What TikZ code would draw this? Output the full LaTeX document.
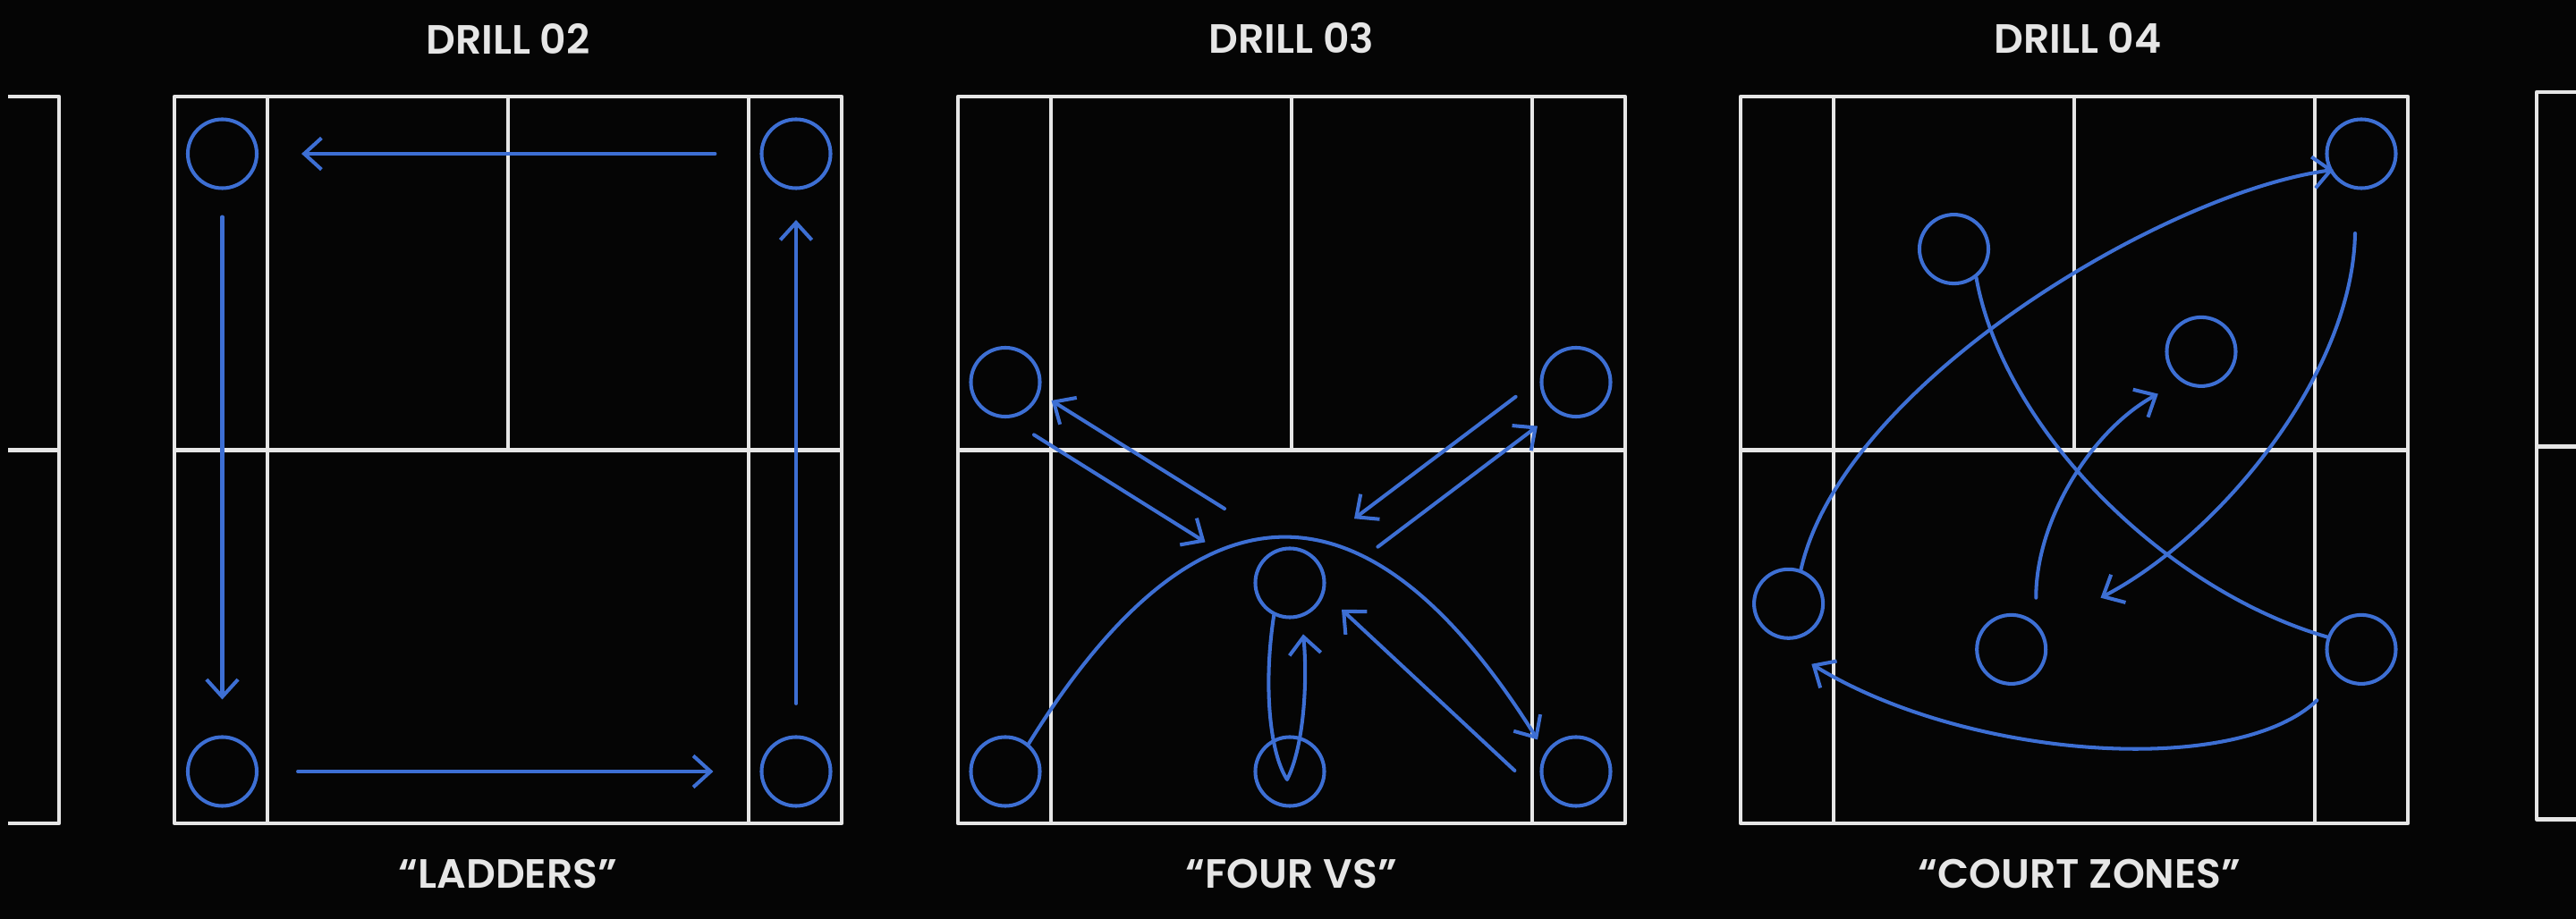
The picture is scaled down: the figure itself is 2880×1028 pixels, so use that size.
\documentclass[tikz,border=0pt]{standalone}
\usepackage{fontspec}
\setmainfont{Poppins}[BoldFont={Poppins SemiBold}]
\usetikzlibrary{arrows.meta}
\definecolor{courtwhite}{HTML}{E6E6E6}
\definecolor{drillblue}{HTML}{3D6FD4}
\definecolor{bgblack}{HTML}{050505}
\tikzset{
  court/.style={draw=courtwhite, line width=1.3pt},
  player/.style={circle, draw=drillblue, line width=1.15pt, minimum size=0.77cm, inner sep=0pt},
  run/.style={draw=drillblue, line width=1.15pt, line cap=round},
  move/.style={run, -{Straight Barb[length=5.5pt, width=10pt]}},
  title/.style={text=courtwhite, font=\bfseries\fontsize{13}{15}\selectfont},
}
\begin{document}
\begin{tikzpicture}[x=0.01cm, y=-0.01cm, line join=round]
  \fill[bgblack] (0,0) rectangle (2880,1028);
  \useasboundingbox (0,0) rectangle (2880,1028);
  % courts
  \foreach \x in {195,1071,1946}{
    \draw[court] (\x,108) rectangle ++(746,813);
    \draw[court] (\x,503.5) -- ++(746,0);
    \draw[court] (\x+104,108) -- (\x+104,921) (\x+642,108) -- (\x+642,921);
    \draw[court] (\x+373,108) -- (\x+373,503.5);
  }
  % cut courts at the edges
  \draw[court] (9,108) -- (66,108) -- (66,921) -- (9,921) (9,503.5) -- (66,503.5);
  \draw[court] (2880,103) -- (2836,103) -- (2836,916.5) -- (2880,916.5) (2836,499.6) -- (2880,499.6);
  % titles
  \node[title] (t2) at (568,43) {DRILL 02};
  \node[title] (t3) at (1444,43) {DRILL 03};
  \node[title] (t4) at (2323,43) {DRILL 04};
  \node[title] (n2) at (568,977) {“LADDERS”};
  \node[title] (n3) at (1444,977) {“FOUR VS”};
  \node[title] (n4) at (2325,977) {“COURT ZONES”};
  % drill 02
  \node[player] (a1) at (248.5,172) {};
  \node[player] (a2) at (890,172) {};
  \node[player] (a3) at (248.5,863) {};
  \node[player] (a4) at (890,863) {};
  \draw[move, shorten <=0.5cm, shorten >=0.48cm] (a2) -- (a1);
  \draw[move, shorten <=0.3cm, shorten >=0.4cm] (a1) -- (a3);
  \draw[move, shorten <=0.44cm, shorten >=0.52cm] (a3) -- (a4);
  \draw[move, shorten <=0.355cm, shorten >=0.335cm] (a4) -- (a2);
  % drill 03
  \node[player] (b1) at (1124,427.5) {};
  \node[player] (b2) at (1762,427.5) {};
  \node[player] (b3) at (1442,652) {};
  \node[player] (b4) at (1124,863) {};
  \node[player] (b5) at (1442,863) {};
  \node[player] (b6) at (1762,863) {};
  \coordinate (ba1) at (1369,569);   \coordinate (ba2) at (1175.5,448);
  \coordinate (bb1) at (1156,486.4); \coordinate (bb2) at (1347.5,606.4);
  \coordinate (bc1) at (1694.6,443.8); \coordinate (bc2) at (1514,580.2);
  \coordinate (bd1) at (1540.4,611.7); \coordinate (bd2) at (1719,476.6);
  \coordinate (be2) at (1719,827.4);
  \coordinate (bf1) at (1693.4,862); \coordinate (bf2) at (1500,681.8);
  \coordinate (bg1) at (1439,872);   \coordinate (bg2) at (1457,709.4);
  \draw[move] (ba1) -- (ba2);
  \draw[move] (bb1) -- (bb2);
  \draw[move] (bc1) -- (bc2);
  \draw[move] (bd1) -- (bd2);
  \draw[move] (b4.50) .. controls (1340,525) and (1530,525) .. (be2);
  \draw[move] (bf1) -- (bf2);
  \draw[move] (b3.244) .. controls (1413,760) and (1418,840) .. (bg1)
    .. controls (1458,835) and (1462,760) .. (bg2);
  % drill 04
  \node[player] (c1) at (2640,172) {};
  \node[player] (c2) at (2184.5,278.6) {};
  \node[player] (c3) at (2461,393.4) {};
  \node[player] (c4) at (1999.6,675.3) {};
  \node[player] (c5) at (2248.7,726.4) {};
  \node[player] (c6) at (2640,726.4) {};
  \coordinate (ch2) at (2608.7,190);
  \coordinate (cj1) at (2633,261);   \coordinate (cj2) at (2348.5,668.7);
  \coordinate (ck1) at (2276.3,668.7); \coordinate (ck2) at (2412.8,440.6);
  \coordinate (cl1) at (2590.4,783.4); \coordinate (cl2) at (2025.3,742.8);
  \draw[move] (c4.70) .. controls (2060,430) and (2420,215) .. (ch2);
  \draw[run] (c2.-52) .. controls (2240,480) and (2420,660) .. (c6.160);
  \draw[move] (cj1) .. controls (2630,420) and (2480,600) .. (cj2);
  \draw[move] (ck1) .. controls (2276,580) and (2340,480) .. (ck2);
  \draw[move] (cl1) .. controls (2500,870) and (2200,850) .. (cl2);
\end{tikzpicture}
\end{document}
